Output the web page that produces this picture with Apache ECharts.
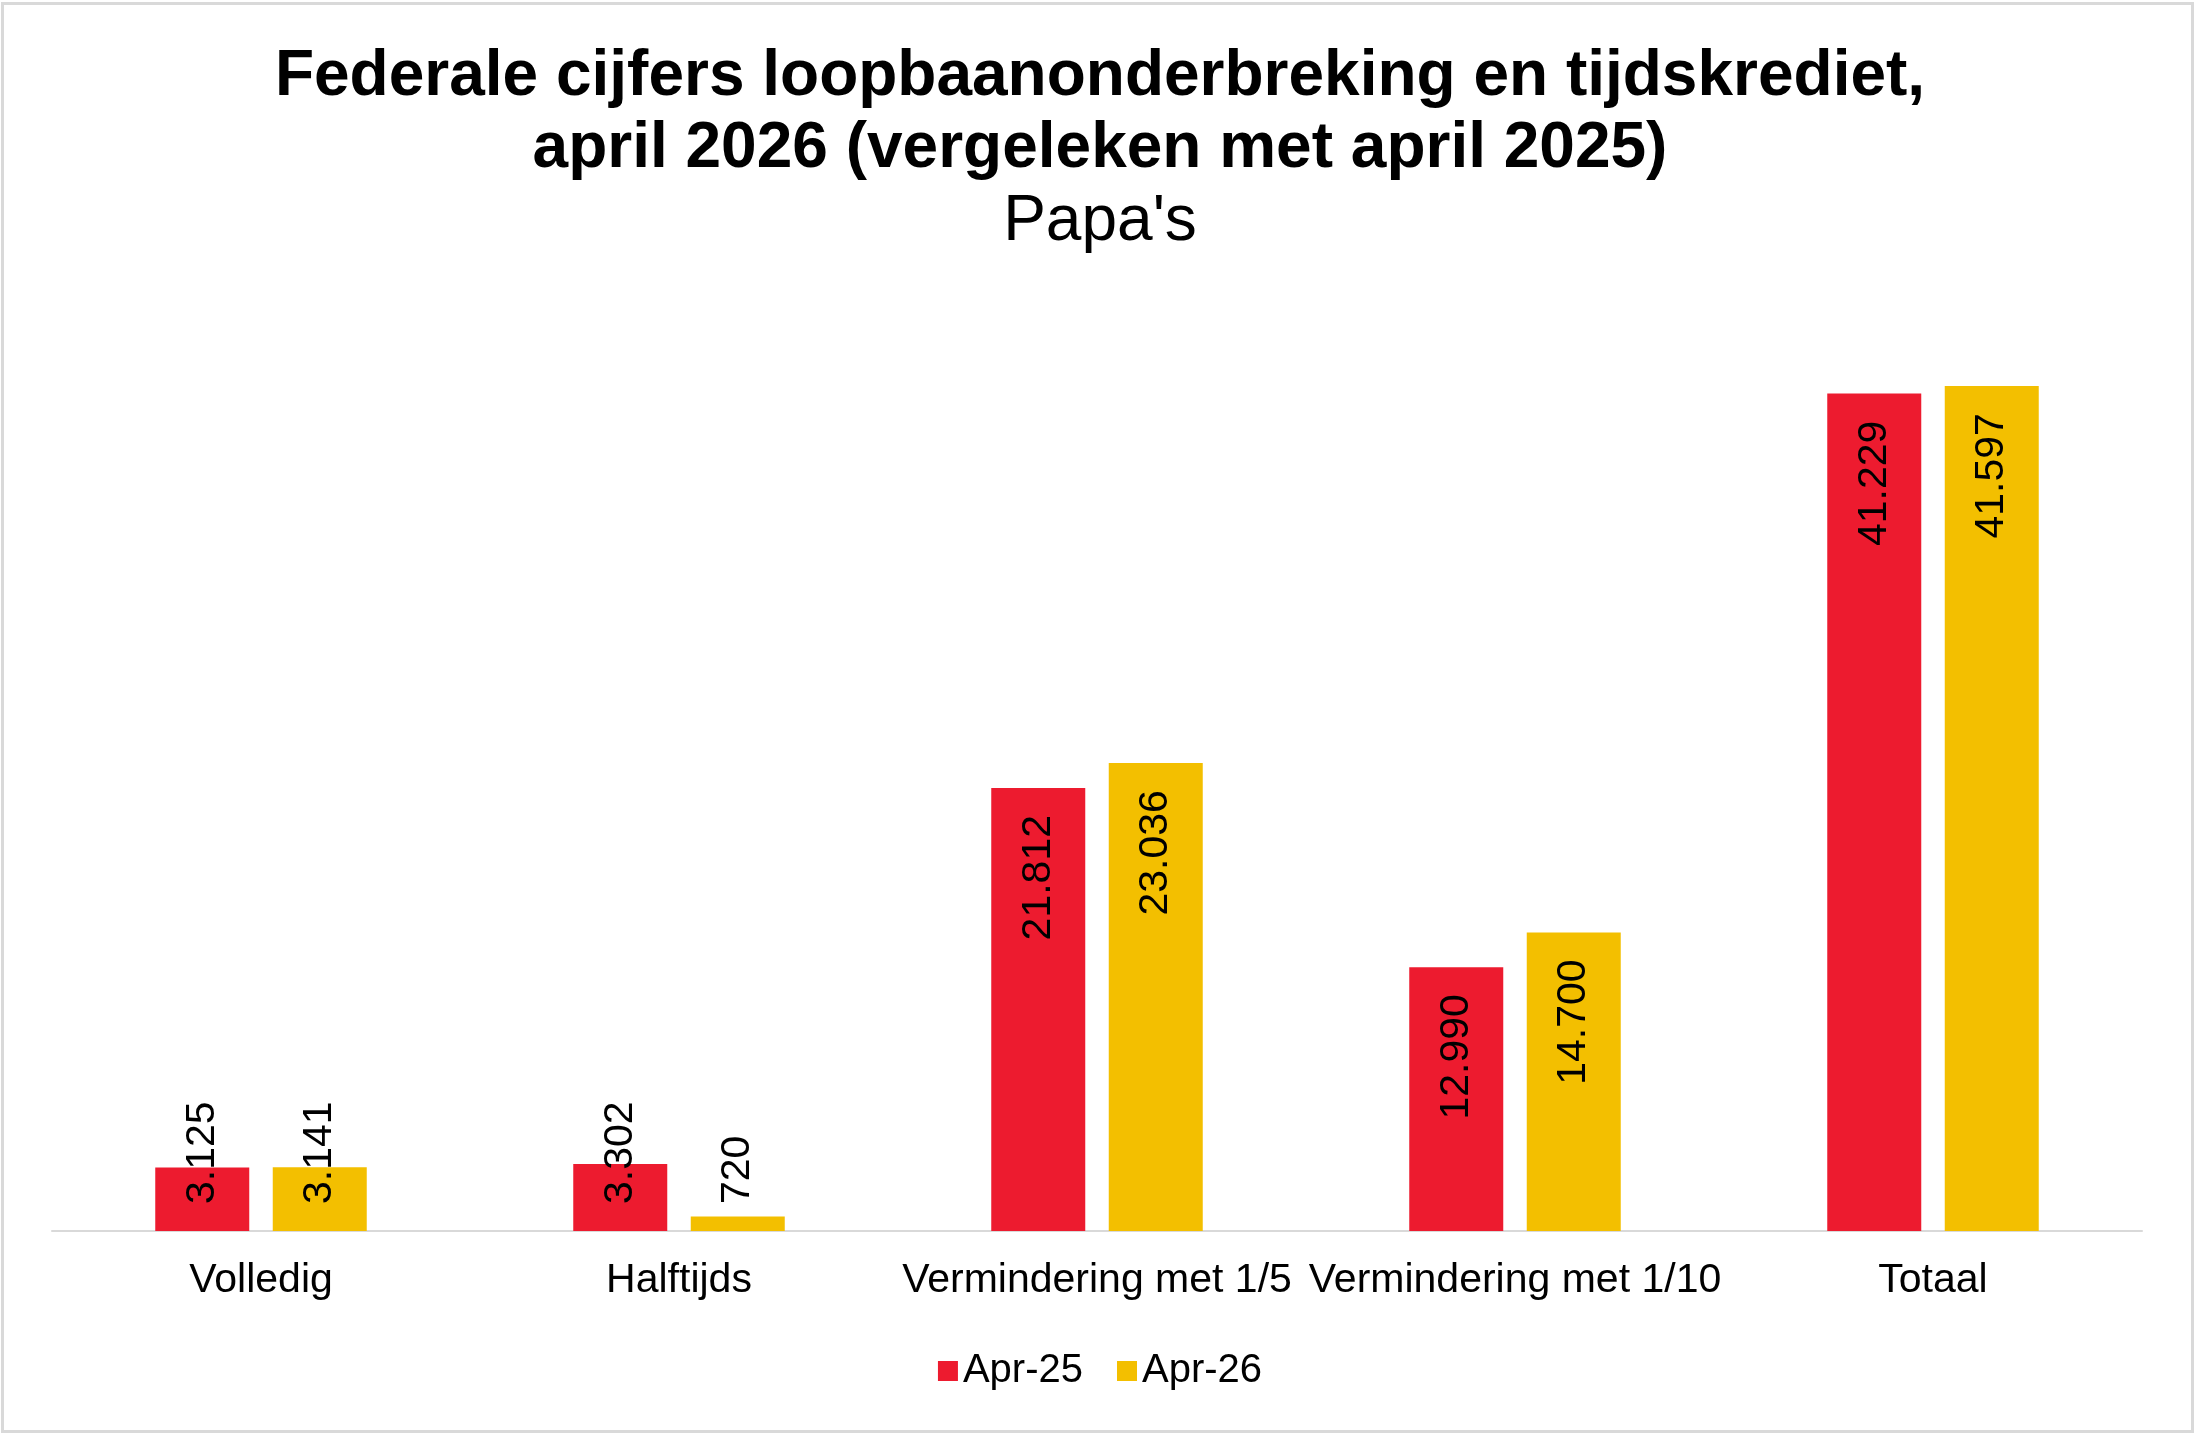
<!DOCTYPE html>
<html>
<head>
<meta charset="utf-8">
<title>Loopbaanonderbreking en tijdskrediet - Papa's</title>
<script src="https://cdn.jsdelivr.net/npm/echarts@6/dist/echarts.min.js"></script>
<style>
  html, body { margin: 0; padding: 0; background: #fff; }
  #chart { width: 2200px; height: 1439px; }
</style>
</head>
<body>
<div id="chart"></div>
<script>
// data
const categories = ['Volledig', 'Halftijds', 'Vermindering met 1/5', 'Vermindering met 1/10', 'Totaal']
const seriesNames = ['Apr-25', 'Apr-26']
const apr25 = [3125, 3302, 21812, 12990, 41229]
const apr26 = [3141, 720, 23036, 14700, 41597]

const FONT = "'Liberation Sans', Arial, sans-serif"
const RED = '#ED1B2F'
const YELLOW = '#F3BF00'

// numbers like Excel nl-BE: 41.229
function fmt(v) {
  return String(v).replace(/\B(?=(\d{3})+(?!\d))/g, '.')
}

// labels sit inside the top of the bar, small bars get them from the base
function buildData(values) {
  return values.map(v => {
    if (v >= 5000) return v
    return {
      value: v,
      label: { position: 'insideBottom', align: 'left', distance: 27 }
    }
  })
}

const chart = echarts.init(document.getElementById('chart'))

chart.setOption({
  backgroundColor: '#fff',
  animation: false,
  textStyle: { fontFamily: FONT },
  title: {
    text: 'Federale cijfers loopbaanonderbreking en tijdskrediet,\napril 2026 (vergeleken met april 2025)',
    subtext: "Papa's",
    left: 'center',
    top: 41,
    padding: 0,
    itemGap: 3,
    textStyle: {
      fontFamily: FONT,
      fontSize: 64,
      fontWeight: 'bold',
      lineHeight: 72,
      color: '#000'
    },
    subtextStyle: {
      fontFamily: FONT,
      fontSize: 64,
      lineHeight: 68,
      color: '#000'
    }
  },
  legend: {
    data: seriesNames,
    left: 'center',
    top: 1346,
    icon: 'rect',
    itemWidth: 20,
    itemHeight: 20,
    itemGap: 34,
    textStyle: { fontFamily: FONT, fontSize: 40, color: '#000' }
  },
  grid: {
    left: 52,
    right: 58,
    top: 317,
    bottom: 208,
    containLabel: false
  },
  xAxis: {
    type: 'category',
    data: categories,
    axisTick: { show: false },
    axisLine: { lineStyle: { color: '#d9d9d9', width: 2 } },
    axisLabel: {
      interval: 0,
      margin: 29,
      fontFamily: FONT,
      fontSize: 41,
      lineHeight: 41,
      color: '#000'
    }
  },
  yAxis: {
    type: 'value',
    min: 0,
    max: 45000,
    show: false,
    splitLine: { show: false }
  },
  series: [
    {
      name: seriesNames[0],
      type: 'bar',
      data: buildData(apr25),
      barWidth: 94,
      barGap: '25%',
      itemStyle: { color: RED },
      label: {
        show: true,
        position: 'insideTop',
        rotate: 90,
        align: 'right',
        verticalAlign: 'middle',
        distance: 27,
        fontFamily: FONT,
        fontSize: 41,
        color: '#000',
        formatter: p => fmt(p.value)
      }
    },
    {
      name: seriesNames[1],
      type: 'bar',
      data: buildData(apr26),
      barWidth: 94,
      barGap: '25%',
      itemStyle: { color: YELLOW },
      label: {
        show: true,
        position: 'insideTop',
        rotate: 90,
        align: 'right',
        verticalAlign: 'middle',
        distance: 27,
        fontFamily: FONT,
        fontSize: 41,
        color: '#000',
        formatter: p => fmt(p.value)
      }
    }
  ],
  graphic: [{
    type: 'rect',
    silent: true,
    z: -1,
    shape: { x: 2.5, y: 3.5, width: 2190, height: 1428 },
    style: { fill: null, stroke: '#d9d9d9', lineWidth: 3 }
  }]
})
</script>
</body>
</html>
